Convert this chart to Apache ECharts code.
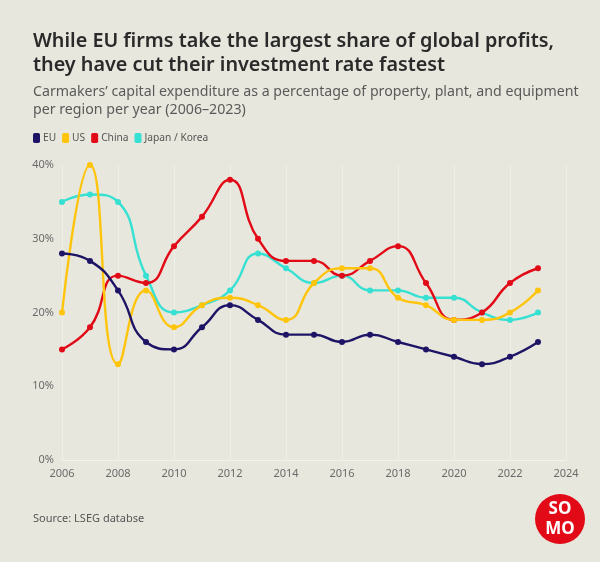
<!DOCTYPE html>
<html>
<head>
<meta charset="utf-8">
<script src="https://cdn.jsdelivr.net/npm/echarts@6/dist/echarts.min.js"></script>
<style>
html,body{margin:0;padding:0;background:#e8e7dd;}
#chart{width:600px;height:562px;}
</style>
</head>
<body>
<div id="chart"></div>
<script>
const years = [2006,2007,2008,2009,2010,2011,2012,2013,2014,2015,2016,2017,2018,2019,2020,2021,2022,2023];
const eu     = [28,27,23,16,15,18,21,19,17,17,16,17,16,15,14,13,14,16];
const us     = [20,40,13,23,18,21,22,21,19,24,26,26,22,21,19,19,20,23];
const china  = [15,18,25,24,29,33,38,30,27,27,25,27,29,24,19,20,24,26];
const japanKorea = [35,36,35,25,20,21,23,28,26,24,25,23,23,22,22,20,19,20];
const seriesNames = ['EU','US','China','Japan / Korea'];
const seriesData = [eu, us, china, japanKorea];
const colors = ['#1e1466','#ffc40c','#e20a17','#36e0d2'];

const chart = echarts.init(document.getElementById('chart'), null, {renderer:'canvas'});
chart.setOption({
  backgroundColor:'#e8e7dd',
  color: colors,
  textStyle:{fontFamily:'"Noto Sans", sans-serif'},
  title:{
    left:28, top:24,
    text:'While EU firms take the largest share of global profits,\nthey have cut their investment rate fastest',
    subtext:'Carmakers\u2019 capital expenditure as a percentage of property, plant, and equipment\nper region per year (2006\u20132023)',
    itemGap:6,
    textStyle:{fontFamily:'"Noto Sans", sans-serif',fontSize:19.8,fontWeight:600,color:'#2a2a2a',lineHeight:24},
    subtextStyle:{fontFamily:'"Noto Sans", sans-serif',fontSize:14.2,color:'#5a5a5a',lineHeight:18}
  },
  legend:{
    left:28, top:128,
    icon:'roundRect', itemWidth:7, itemHeight:10, itemGap:6,
    textStyle:{fontSize:10.2,color:'#555',padding:[0,0,0,-2]},
    data: seriesNames
  },
  grid:{left:62,right:34,top:165,bottom:102},
  xAxis:{
    type:'value', min:2006, max:2024, interval:2,
    axisLine:{show:true,lineStyle:{color:'#f4f3ec',width:1}},
    axisTick:{show:false},
    axisLabel:{color:'#6a6a6a',fontSize:11,margin:8,formatter:v=>String(v)},
    splitLine:{show:true,lineStyle:{color:'#f1f0e8',width:1}}
  },
  yAxis:{
    type:'value', min:0, max:40, interval:10,
    axisLine:{show:false}, axisTick:{show:false},
    axisLabel:{color:'#6a6a6a',fontSize:11,margin:8,formatter:v=>v+'%'},
    splitLine:{show:false}
  },
  series: seriesNames.map((n,i)=>({
    name:n, type:'line', smooth:0.5,
    data: years.map((y,j)=>[y, seriesData[i][j]]),
    symbol:'circle', symbolSize:6,
    lineStyle:{width:2.4,color:colors[i]},
    itemStyle:{color:colors[i]},
    z: 10 - i
  })),
  graphic:[
    {type:'text', left:33, top:513, style:{text:'Source: LSEG databse', fontSize:11, fill:'#555', fontFamily:'"Noto Sans", sans-serif'}},
    {type:'circle', shape:{cx:560, cy:519, r:25}, style:{fill:'#e20a17'}},
    {type:'text', x:560, y:509, style:{text:'SO', fontSize:17, fontWeight:'bold', fill:'#fff', align:'center', verticalAlign:'middle', fontFamily:'"Noto Sans", sans-serif'}},
    {type:'text', x:560, y:529, style:{text:'MO', fontSize:17, fontWeight:'bold', fill:'#fff', align:'center', verticalAlign:'middle', fontFamily:'"Noto Sans", sans-serif'}}
  ]
});
</script>
</body>
</html>
